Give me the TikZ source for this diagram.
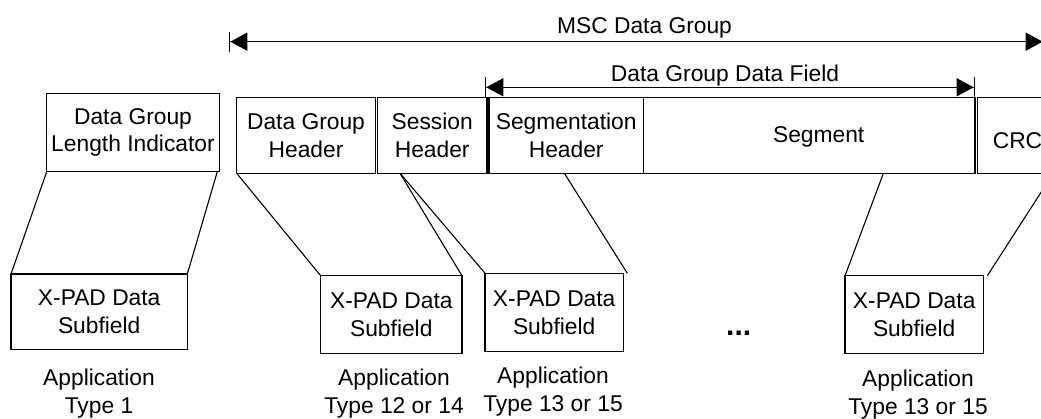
\documentclass[tikz,border=0pt]{standalone}
\usepackage{fontspec}
\setmainfont{Liberation Sans}
\usetikzlibrary{arrows.meta,calc}
\begin{document}
\begin{tikzpicture}[x=1pt,y=-1pt,
  every node/.style={font=\fontsize{22.8}{27.8}\selectfont},
  box/.style={draw,line width=1.3pt,inner sep=0pt,outer sep=0pt,align=center},
  lbl/.style={anchor=base,align=center,inner sep=0pt},
  conn/.style={line width=1.1pt},
  dimline/.style={line width=1.3pt,{Bar[width=20pt]Triangle[length=17pt,width=18pt]}-{Triangle[length=17pt,width=18pt]Bar[width=20pt]}}
]
\clip (0,0) rectangle (1041,419);
% top row
\node[box,minimum width=172.6pt,minimum height=78.4pt] (dgli) at (133,132.5) {Data Group\\Length Indicator};
\node[box,minimum width=138.6pt,minimum height=76pt] (dgh) at (306,135.3) {Data Group\\Header};
\node[box,minimum width=109.7pt,minimum height=76pt] (sh) at (432.2,135.3) {Session\\Header};
\node[box,minimum width=154.3pt,minimum height=76pt] (segh) at (566.2,135.3) {Segmentation\\Header};
\node[box,minimum width=331.7pt,minimum height=76pt,text height=14.8pt,text depth=0pt] (seg) at (809.2,135.3) {\hspace*{19pt}Segment};
\node[box,minimum width=80.4pt,minimum height=76pt,text height=26pt,text depth=0pt] (crc) at (1017.5,135.3) {CRC};
% dimension arrows
\coordinate (m1) at (229,41.7);
\coordinate (m2) at (1044,41.7);
\draw[dimline] (m1) -- (m2);
\node[anchor=base,inner sep=0pt] (msc) at (644.5,33.5) {MSC Data Group};
\coordinate (d1) at (485,87.3);
\coordinate (d2) at (975,87.3);
\draw[dimline] (d1) -- (d2);
\node[anchor=base,inner sep=0pt] (dgdf) at (725,81.7) {Data Group Data Field};
% bottom row
\node[box,minimum width=176.3pt,minimum height=75.7pt] (x1) at (99.2,311.8) {X-PAD Data\\Subfield};
\node[box,minimum width=141.3pt,minimum height=78pt] (x2) at (391.3,314.7) {X-PAD Data\\Subfield};
\node[box,minimum width=138.3pt,minimum height=78.4pt] (x3) at (554.2,312.5) {X-PAD Data\\Subfield};
\node[box,minimum width=138.3pt,minimum height=78pt] (x4) at (914.2,314.7) {X-PAD Data\\Subfield};
\node[anchor=base,inner sep=0pt,font=\fontsize{30}{30}\selectfont\bfseries] (dots) at (738.7,335.7) {...};
% labels (base = baseline of last line)
\node[lbl] (l1) at (99,413.5) {Application\\Type 1};
\node[lbl] (l2) at (394,413.5) {Application\\Type 12 or 14};
\node[lbl] (l3) at (553,411.7) {Application\\Type 13 or 15};
\node[lbl] (l4) at (918,414.5) {Application\\Type 13 or 15};
% connectors
\draw[conn] (dgli.south west) -- (x1.north west);
\draw[conn] ([xshift=-2pt]dgli.south east) -- (x1.north east);
\draw[conn] (dgh.south west) -- (x2.north west);
\coordinate (shp) at ($(sh.south west)+(22.7,0)$);
\draw[conn] (shp) -- (x2.north east);
\draw[conn] (shp) -- (x3.north west);
\draw[conn] ($(segh.south west)+(75.3,0)$) -- ([xshift=4pt]x3.north east);
\draw[conn] ($(seg.south west)+(240,0)$) -- (x4.north west);
\draw[conn] ($(crc.south west)+(76,0)$) -- ([xshift=4pt]x4.north east);
\end{tikzpicture}
\end{document}
